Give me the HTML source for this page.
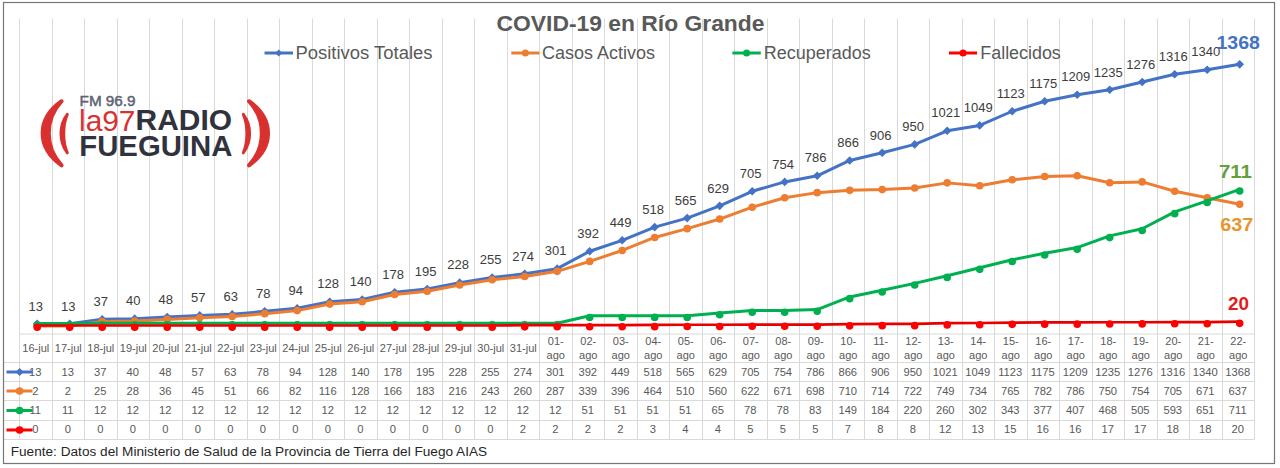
<!DOCTYPE html>
<html><head><meta charset="utf-8"><title>COVID-19 en Río Grande</title>
<style>html,body{margin:0;padding:0;background:#fff;width:1280px;height:468px;overflow:hidden}svg{display:block;font-family:"Liberation Sans",sans-serif}</style>
</head><body>
<svg width="1280" height="468" viewBox="0 0 1280 468">
<rect x="0" y="0" width="1280" height="468" fill="#fff"/>
<path d="M19.50 18.5V439 M52.50 18.5V439 M84.50 18.5V439 M117.50 18.5V439 M149.50 18.5V439 M182.50 18.5V439 M214.50 18.5V439 M247.50 18.5V439 M279.50 18.5V439 M312.50 18.5V439 M344.50 18.5V439 M377.50 18.5V439 M409.50 18.5V439 M442.50 18.5V439 M474.50 18.5V439 M507.50 18.5V439 M539.50 18.5V439 M572.50 18.5V439 M604.50 18.5V439 M637.50 18.5V439 M669.50 18.5V439 M702.50 18.5V439 M734.50 18.5V439 M767.50 18.5V439 M799.50 18.5V439 M832.50 18.5V439 M864.50 18.5V439 M897.50 18.5V439 M929.50 18.5V439 M962.50 18.5V439 M994.50 18.5V439 M1027.50 18.5V439 M1059.50 18.5V439 M1092.50 18.5V439 M1124.50 18.5V439 M1157.50 18.5V439 M1189.50 18.5V439 M1222.50 18.5V439 M1254.50 18.5V439" stroke="#d9d9d9" stroke-width="1" fill="none"/>
<path d="M19.50 334H1254.50 M3 362.5H1254.50 M3 381.5H1254.50 M3 400.5H1254.50 M3 420.5H1254.50 M3 439.5H1254.50" stroke="#d9d9d9" stroke-width="1" fill="none"/>
<rect x="3.5" y="2.5" width="1271" height="461" fill="none" stroke="#767676" stroke-width="1.2"/>
<g fill="#d9312f" stroke="#d9312f" stroke-linejoin="round">
<path stroke-width="4" d="M61.60 101.20C36.27 119.15 36.27 147.35 61.60 165.30C44.53 147.35 44.53 119.15 61.60 101.20Z"/>
<path stroke-width="3" d="M67.30 114.30C58.90 125.08 58.90 142.02 67.30 152.80C62.50 142.02 62.50 125.08 67.30 114.30Z"/>
<path stroke-width="4" d="M249.00 101.20C274.33 119.15 274.33 147.35 249.00 165.30C266.07 147.35 266.07 119.15 249.00 101.20Z"/>
<path stroke-width="3" d="M243.30 114.30C251.70 125.08 251.70 142.02 243.30 152.80C248.10 142.02 248.10 125.08 243.30 114.30Z"/>
</g>
<g id="logo">
<text x="79.6" y="105.8" font-family="Liberation Sans" font-size="14" fill="#5d6274" stroke="#5d6274" stroke-width="0.45" textLength="56" lengthAdjust="spacingAndGlyphs">FM 96.9</text>
<text x="79" y="130.6" font-family="Liberation Sans" font-size="29.5" fill="#d9312f" textLength="56.5" lengthAdjust="spacingAndGlyphs">la97</text>
<text x="135.5" y="130.4" font-family="Liberation Sans" font-weight="bold" font-size="29" fill="#30323d" textLength="96.5" lengthAdjust="spacingAndGlyphs">RADIO</text>
<text x="79.3" y="155.6" font-family="Liberation Sans" font-weight="bold" font-size="28.7" fill="#30323d" textLength="153" lengthAdjust="spacingAndGlyphs">FUEGUINA</text>
</g>
<text x="496.5" y="31.3" font-family="Liberation Sans" font-weight="bold" font-size="22" fill="#595959" textLength="268" lengthAdjust="spacingAndGlyphs">COVID-19 en Río Grande</text>
<path d="M264.5 53H293" stroke="#4472C4" stroke-width="3"/>
<path d="M278.75 49.5L282.25 53L278.75 56.5L275.25 53Z" fill="#4472C4"/>
<text x="295.5" y="58.8" font-family="Liberation Sans" font-size="17.5" fill="#595959" textLength="137" lengthAdjust="spacingAndGlyphs">Positivos Totales</text>
<path d="M511.3 53H539.4" stroke="#ED7D31" stroke-width="3"/>
<circle cx="525.35" cy="53" r="3.5" fill="#ED7D31"/>
<text x="542" y="58.8" font-family="Liberation Sans" font-size="17.5" fill="#595959" textLength="113" lengthAdjust="spacingAndGlyphs">Casos Activos</text>
<path d="M732.4 53H760.8" stroke="#00B050" stroke-width="3"/>
<circle cx="746.5999999999999" cy="53" r="3.5" fill="#00B050"/>
<text x="763.8" y="58.8" font-family="Liberation Sans" font-size="17.5" fill="#595959" textLength="107" lengthAdjust="spacingAndGlyphs">Recuperados</text>
<path d="M949 53H977.1" stroke="#FF0000" stroke-width="3"/>
<circle cx="963.05" cy="53" r="3.5" fill="#FF0000"/>
<text x="980.3" y="58.8" font-family="Liberation Sans" font-size="17.5" fill="#595959" textLength="80.5" lengthAdjust="spacingAndGlyphs">Fallecidos</text>
<polyline points="37.20,323.81 69.70,323.81 102.20,319.21 134.70,318.64 167.20,317.11 199.70,315.38 232.20,314.24 264.70,311.36 297.20,308.30 329.70,301.79 362.20,299.49 394.70,292.21 427.20,288.96 459.70,282.64 492.20,277.47 524.70,273.83 557.20,268.66 589.70,251.23 622.20,240.32 654.70,227.10 687.20,218.10 719.70,205.85 752.20,191.29 784.70,181.91 817.20,175.78 849.70,160.46 882.20,152.80 914.70,144.38 947.20,130.78 979.70,125.42 1012.20,111.25 1044.70,101.29 1077.20,94.78 1109.70,89.80 1142.20,81.95 1174.70,74.29 1207.20,69.69 1239.70,64.33" fill="none" stroke="#4472C4" stroke-width="3" stroke-linejoin="round" stroke-linecap="round"/>
<path d="M37.20 319.51L41.50 323.81L37.20 328.11L32.90 323.81Z M69.70 319.51L74.00 323.81L69.70 328.11L65.40 323.81Z M102.20 314.91L106.50 319.21L102.20 323.51L97.90 319.21Z M134.70 314.34L139.00 318.64L134.70 322.94L130.40 318.64Z M167.20 312.81L171.50 317.11L167.20 321.41L162.90 317.11Z M199.70 311.08L204.00 315.38L199.70 319.68L195.40 315.38Z M232.20 309.94L236.50 314.24L232.20 318.54L227.90 314.24Z M264.70 307.06L269.00 311.36L264.70 315.66L260.40 311.36Z M297.20 304.00L301.50 308.30L297.20 312.60L292.90 308.30Z M329.70 297.49L334.00 301.79L329.70 306.09L325.40 301.79Z M362.20 295.19L366.50 299.49L362.20 303.79L357.90 299.49Z M394.70 287.91L399.00 292.21L394.70 296.51L390.40 292.21Z M427.20 284.66L431.50 288.96L427.20 293.26L422.90 288.96Z M459.70 278.34L464.00 282.64L459.70 286.94L455.40 282.64Z M492.20 273.17L496.50 277.47L492.20 281.77L487.90 277.47Z M524.70 269.53L529.00 273.83L524.70 278.13L520.40 273.83Z M557.20 264.36L561.50 268.66L557.20 272.96L552.90 268.66Z M589.70 246.93L594.00 251.23L589.70 255.53L585.40 251.23Z M622.20 236.02L626.50 240.32L622.20 244.62L617.90 240.32Z M654.70 222.80L659.00 227.10L654.70 231.40L650.40 227.10Z M687.20 213.80L691.50 218.10L687.20 222.40L682.90 218.10Z M719.70 201.55L724.00 205.85L719.70 210.15L715.40 205.85Z M752.20 186.99L756.50 191.29L752.20 195.59L747.90 191.29Z M784.70 177.61L789.00 181.91L784.70 186.21L780.40 181.91Z M817.20 171.48L821.50 175.78L817.20 180.08L812.90 175.78Z M849.70 156.16L854.00 160.46L849.70 164.76L845.40 160.46Z M882.20 148.50L886.50 152.80L882.20 157.10L877.90 152.80Z M914.70 140.07L919.00 144.38L914.70 148.68L910.40 144.38Z M947.20 126.48L951.50 130.78L947.20 135.08L942.90 130.78Z M979.70 121.12L984.00 125.42L979.70 129.72L975.40 125.42Z M1012.20 106.95L1016.50 111.25L1012.20 115.55L1007.90 111.25Z M1044.70 96.99L1049.00 101.29L1044.70 105.59L1040.40 101.29Z M1077.20 90.48L1081.50 94.78L1077.20 99.08L1072.90 94.78Z M1109.70 85.50L1114.00 89.80L1109.70 94.10L1105.40 89.80Z M1142.20 77.65L1146.50 81.95L1142.20 86.25L1137.90 81.95Z M1174.70 69.99L1179.00 74.29L1174.70 78.59L1170.40 74.29Z M1207.20 65.39L1211.50 69.69L1207.20 73.99L1202.90 69.69Z M1239.70 60.03L1244.00 64.33L1239.70 68.63L1235.40 64.33Z" fill="#4472C4"/>
<polyline points="37.20,325.92 69.70,325.92 102.20,321.51 134.70,320.94 167.20,319.41 199.70,317.68 232.20,316.53 264.70,313.66 297.20,310.60 329.70,304.09 362.20,301.79 394.70,294.51 427.20,291.26 459.70,284.94 492.20,279.77 524.70,276.51 557.20,271.34 589.70,261.38 622.20,250.47 654.70,237.44 687.20,228.63 719.70,219.06 752.20,207.19 784.70,197.80 817.20,192.63 849.70,190.34 882.20,189.57 914.70,188.04 947.20,182.87 979.70,185.74 1012.20,179.80 1044.70,176.55 1077.20,175.78 1109.70,182.68 1142.20,181.91 1174.70,191.29 1207.20,197.80 1239.70,204.31" fill="none" stroke="#ED7D31" stroke-width="3" stroke-linejoin="round" stroke-linecap="round"/>
<path d="M33.40 325.92a3.8 3.8 0 1 0 7.6 0a3.8 3.8 0 1 0 -7.6 0Z M65.90 325.92a3.8 3.8 0 1 0 7.6 0a3.8 3.8 0 1 0 -7.6 0Z M98.40 321.51a3.8 3.8 0 1 0 7.6 0a3.8 3.8 0 1 0 -7.6 0Z M130.90 320.94a3.8 3.8 0 1 0 7.6 0a3.8 3.8 0 1 0 -7.6 0Z M163.40 319.41a3.8 3.8 0 1 0 7.6 0a3.8 3.8 0 1 0 -7.6 0Z M195.90 317.68a3.8 3.8 0 1 0 7.6 0a3.8 3.8 0 1 0 -7.6 0Z M228.40 316.53a3.8 3.8 0 1 0 7.6 0a3.8 3.8 0 1 0 -7.6 0Z M260.90 313.66a3.8 3.8 0 1 0 7.6 0a3.8 3.8 0 1 0 -7.6 0Z M293.40 310.60a3.8 3.8 0 1 0 7.6 0a3.8 3.8 0 1 0 -7.6 0Z M325.90 304.09a3.8 3.8 0 1 0 7.6 0a3.8 3.8 0 1 0 -7.6 0Z M358.40 301.79a3.8 3.8 0 1 0 7.6 0a3.8 3.8 0 1 0 -7.6 0Z M390.90 294.51a3.8 3.8 0 1 0 7.6 0a3.8 3.8 0 1 0 -7.6 0Z M423.40 291.26a3.8 3.8 0 1 0 7.6 0a3.8 3.8 0 1 0 -7.6 0Z M455.90 284.94a3.8 3.8 0 1 0 7.6 0a3.8 3.8 0 1 0 -7.6 0Z M488.40 279.77a3.8 3.8 0 1 0 7.6 0a3.8 3.8 0 1 0 -7.6 0Z M520.90 276.51a3.8 3.8 0 1 0 7.6 0a3.8 3.8 0 1 0 -7.6 0Z M553.40 271.34a3.8 3.8 0 1 0 7.6 0a3.8 3.8 0 1 0 -7.6 0Z M585.90 261.38a3.8 3.8 0 1 0 7.6 0a3.8 3.8 0 1 0 -7.6 0Z M618.40 250.47a3.8 3.8 0 1 0 7.6 0a3.8 3.8 0 1 0 -7.6 0Z M650.90 237.44a3.8 3.8 0 1 0 7.6 0a3.8 3.8 0 1 0 -7.6 0Z M683.40 228.63a3.8 3.8 0 1 0 7.6 0a3.8 3.8 0 1 0 -7.6 0Z M715.90 219.06a3.8 3.8 0 1 0 7.6 0a3.8 3.8 0 1 0 -7.6 0Z M748.40 207.19a3.8 3.8 0 1 0 7.6 0a3.8 3.8 0 1 0 -7.6 0Z M780.90 197.80a3.8 3.8 0 1 0 7.6 0a3.8 3.8 0 1 0 -7.6 0Z M813.40 192.63a3.8 3.8 0 1 0 7.6 0a3.8 3.8 0 1 0 -7.6 0Z M845.90 190.34a3.8 3.8 0 1 0 7.6 0a3.8 3.8 0 1 0 -7.6 0Z M878.40 189.57a3.8 3.8 0 1 0 7.6 0a3.8 3.8 0 1 0 -7.6 0Z M910.90 188.04a3.8 3.8 0 1 0 7.6 0a3.8 3.8 0 1 0 -7.6 0Z M943.40 182.87a3.8 3.8 0 1 0 7.6 0a3.8 3.8 0 1 0 -7.6 0Z M975.90 185.74a3.8 3.8 0 1 0 7.6 0a3.8 3.8 0 1 0 -7.6 0Z M1008.40 179.80a3.8 3.8 0 1 0 7.6 0a3.8 3.8 0 1 0 -7.6 0Z M1040.90 176.55a3.8 3.8 0 1 0 7.6 0a3.8 3.8 0 1 0 -7.6 0Z M1073.40 175.78a3.8 3.8 0 1 0 7.6 0a3.8 3.8 0 1 0 -7.6 0Z M1105.90 182.68a3.8 3.8 0 1 0 7.6 0a3.8 3.8 0 1 0 -7.6 0Z M1138.40 181.91a3.8 3.8 0 1 0 7.6 0a3.8 3.8 0 1 0 -7.6 0Z M1170.90 191.29a3.8 3.8 0 1 0 7.6 0a3.8 3.8 0 1 0 -7.6 0Z M1203.40 197.80a3.8 3.8 0 1 0 7.6 0a3.8 3.8 0 1 0 -7.6 0Z M1235.90 204.31a3.8 3.8 0 1 0 7.6 0a3.8 3.8 0 1 0 -7.6 0Z" fill="#ED7D31"/>
<polyline points="37.20,323.39 69.70,323.39 102.20,323.20 134.70,323.20 167.20,323.20 199.70,323.20 232.20,323.20 264.70,323.20 297.20,323.20 329.70,323.20 362.20,323.20 394.70,323.20 427.20,323.20 459.70,323.20 492.20,323.20 524.70,323.20 557.20,323.20 589.70,315.73 622.20,315.73 654.70,315.73 687.20,315.73 719.70,313.05 752.20,310.56 784.70,310.56 817.20,309.61 849.70,296.97 882.20,290.26 914.70,283.37 947.20,275.71 979.70,267.67 1012.20,259.82 1044.70,253.30 1077.20,247.56 1109.70,235.88 1142.20,228.79 1174.70,211.94 1207.20,200.83 1239.70,189.34" fill="none" stroke="#00B050" stroke-width="3" stroke-linejoin="round" stroke-linecap="round"/>
<path d="M33.40 325.09a3.8 3.8 0 1 0 7.6 0a3.8 3.8 0 1 0 -7.6 0Z M65.90 325.09a3.8 3.8 0 1 0 7.6 0a3.8 3.8 0 1 0 -7.6 0Z M98.40 324.90a3.8 3.8 0 1 0 7.6 0a3.8 3.8 0 1 0 -7.6 0Z M130.90 324.90a3.8 3.8 0 1 0 7.6 0a3.8 3.8 0 1 0 -7.6 0Z M163.40 324.90a3.8 3.8 0 1 0 7.6 0a3.8 3.8 0 1 0 -7.6 0Z M195.90 324.90a3.8 3.8 0 1 0 7.6 0a3.8 3.8 0 1 0 -7.6 0Z M228.40 324.90a3.8 3.8 0 1 0 7.6 0a3.8 3.8 0 1 0 -7.6 0Z M260.90 324.90a3.8 3.8 0 1 0 7.6 0a3.8 3.8 0 1 0 -7.6 0Z M293.40 324.90a3.8 3.8 0 1 0 7.6 0a3.8 3.8 0 1 0 -7.6 0Z M325.90 324.90a3.8 3.8 0 1 0 7.6 0a3.8 3.8 0 1 0 -7.6 0Z M358.40 324.90a3.8 3.8 0 1 0 7.6 0a3.8 3.8 0 1 0 -7.6 0Z M390.90 324.90a3.8 3.8 0 1 0 7.6 0a3.8 3.8 0 1 0 -7.6 0Z M423.40 324.90a3.8 3.8 0 1 0 7.6 0a3.8 3.8 0 1 0 -7.6 0Z M455.90 324.90a3.8 3.8 0 1 0 7.6 0a3.8 3.8 0 1 0 -7.6 0Z M488.40 324.90a3.8 3.8 0 1 0 7.6 0a3.8 3.8 0 1 0 -7.6 0Z M520.90 324.90a3.8 3.8 0 1 0 7.6 0a3.8 3.8 0 1 0 -7.6 0Z M553.40 324.90a3.8 3.8 0 1 0 7.6 0a3.8 3.8 0 1 0 -7.6 0Z M585.90 317.43a3.8 3.8 0 1 0 7.6 0a3.8 3.8 0 1 0 -7.6 0Z M618.40 317.43a3.8 3.8 0 1 0 7.6 0a3.8 3.8 0 1 0 -7.6 0Z M650.90 317.43a3.8 3.8 0 1 0 7.6 0a3.8 3.8 0 1 0 -7.6 0Z M683.40 317.43a3.8 3.8 0 1 0 7.6 0a3.8 3.8 0 1 0 -7.6 0Z M715.90 314.75a3.8 3.8 0 1 0 7.6 0a3.8 3.8 0 1 0 -7.6 0Z M748.40 312.26a3.8 3.8 0 1 0 7.6 0a3.8 3.8 0 1 0 -7.6 0Z M780.90 312.26a3.8 3.8 0 1 0 7.6 0a3.8 3.8 0 1 0 -7.6 0Z M813.40 311.31a3.8 3.8 0 1 0 7.6 0a3.8 3.8 0 1 0 -7.6 0Z M845.90 298.67a3.8 3.8 0 1 0 7.6 0a3.8 3.8 0 1 0 -7.6 0Z M878.40 291.96a3.8 3.8 0 1 0 7.6 0a3.8 3.8 0 1 0 -7.6 0Z M910.90 285.07a3.8 3.8 0 1 0 7.6 0a3.8 3.8 0 1 0 -7.6 0Z M943.40 277.41a3.8 3.8 0 1 0 7.6 0a3.8 3.8 0 1 0 -7.6 0Z M975.90 269.37a3.8 3.8 0 1 0 7.6 0a3.8 3.8 0 1 0 -7.6 0Z M1008.40 261.52a3.8 3.8 0 1 0 7.6 0a3.8 3.8 0 1 0 -7.6 0Z M1040.90 255.00a3.8 3.8 0 1 0 7.6 0a3.8 3.8 0 1 0 -7.6 0Z M1073.40 249.26a3.8 3.8 0 1 0 7.6 0a3.8 3.8 0 1 0 -7.6 0Z M1105.90 237.58a3.8 3.8 0 1 0 7.6 0a3.8 3.8 0 1 0 -7.6 0Z M1138.40 230.49a3.8 3.8 0 1 0 7.6 0a3.8 3.8 0 1 0 -7.6 0Z M1170.90 213.64a3.8 3.8 0 1 0 7.6 0a3.8 3.8 0 1 0 -7.6 0Z M1203.40 202.53a3.8 3.8 0 1 0 7.6 0a3.8 3.8 0 1 0 -7.6 0Z M1235.90 191.04a3.8 3.8 0 1 0 7.6 0a3.8 3.8 0 1 0 -7.6 0Z" fill="#00B050"/>
<polyline points="37.20,325.50 69.70,325.50 102.20,325.50 134.70,325.50 167.20,325.50 199.70,325.50 232.20,325.50 264.70,325.50 297.20,325.50 329.70,325.50 362.20,325.50 394.70,325.50 427.20,325.50 459.70,325.50 492.20,325.50 524.70,325.12 557.20,325.12 589.70,325.12 622.20,325.12 654.70,324.93 687.20,324.73 719.70,324.73 752.20,324.54 784.70,324.54 817.20,324.54 849.70,324.16 882.20,323.97 914.70,323.97 947.20,323.20 979.70,323.01 1012.20,322.63 1044.70,322.44 1077.20,322.44 1109.70,322.24 1142.20,322.24 1174.70,322.05 1207.20,322.05 1239.70,321.67" fill="none" stroke="#e80000" stroke-width="2.7" stroke-linejoin="round" stroke-linecap="round"/>
<path d="M33.40 327.20a3.8 3.8 0 1 0 7.6 0a3.8 3.8 0 1 0 -7.6 0Z M65.90 327.20a3.8 3.8 0 1 0 7.6 0a3.8 3.8 0 1 0 -7.6 0Z M98.40 327.20a3.8 3.8 0 1 0 7.6 0a3.8 3.8 0 1 0 -7.6 0Z M130.90 327.20a3.8 3.8 0 1 0 7.6 0a3.8 3.8 0 1 0 -7.6 0Z M163.40 327.20a3.8 3.8 0 1 0 7.6 0a3.8 3.8 0 1 0 -7.6 0Z M195.90 327.20a3.8 3.8 0 1 0 7.6 0a3.8 3.8 0 1 0 -7.6 0Z M228.40 327.20a3.8 3.8 0 1 0 7.6 0a3.8 3.8 0 1 0 -7.6 0Z M260.90 327.20a3.8 3.8 0 1 0 7.6 0a3.8 3.8 0 1 0 -7.6 0Z M293.40 327.20a3.8 3.8 0 1 0 7.6 0a3.8 3.8 0 1 0 -7.6 0Z M325.90 327.20a3.8 3.8 0 1 0 7.6 0a3.8 3.8 0 1 0 -7.6 0Z M358.40 327.20a3.8 3.8 0 1 0 7.6 0a3.8 3.8 0 1 0 -7.6 0Z M390.90 327.20a3.8 3.8 0 1 0 7.6 0a3.8 3.8 0 1 0 -7.6 0Z M423.40 327.20a3.8 3.8 0 1 0 7.6 0a3.8 3.8 0 1 0 -7.6 0Z M455.90 327.20a3.8 3.8 0 1 0 7.6 0a3.8 3.8 0 1 0 -7.6 0Z M488.40 327.20a3.8 3.8 0 1 0 7.6 0a3.8 3.8 0 1 0 -7.6 0Z M520.90 326.82a3.8 3.8 0 1 0 7.6 0a3.8 3.8 0 1 0 -7.6 0Z M553.40 326.82a3.8 3.8 0 1 0 7.6 0a3.8 3.8 0 1 0 -7.6 0Z M585.90 326.82a3.8 3.8 0 1 0 7.6 0a3.8 3.8 0 1 0 -7.6 0Z M618.40 326.82a3.8 3.8 0 1 0 7.6 0a3.8 3.8 0 1 0 -7.6 0Z M650.90 326.63a3.8 3.8 0 1 0 7.6 0a3.8 3.8 0 1 0 -7.6 0Z M683.40 326.43a3.8 3.8 0 1 0 7.6 0a3.8 3.8 0 1 0 -7.6 0Z M715.90 326.43a3.8 3.8 0 1 0 7.6 0a3.8 3.8 0 1 0 -7.6 0Z M748.40 326.24a3.8 3.8 0 1 0 7.6 0a3.8 3.8 0 1 0 -7.6 0Z M780.90 326.24a3.8 3.8 0 1 0 7.6 0a3.8 3.8 0 1 0 -7.6 0Z M813.40 326.24a3.8 3.8 0 1 0 7.6 0a3.8 3.8 0 1 0 -7.6 0Z M845.90 325.86a3.8 3.8 0 1 0 7.6 0a3.8 3.8 0 1 0 -7.6 0Z M878.40 325.67a3.8 3.8 0 1 0 7.6 0a3.8 3.8 0 1 0 -7.6 0Z M910.90 325.67a3.8 3.8 0 1 0 7.6 0a3.8 3.8 0 1 0 -7.6 0Z M943.40 324.90a3.8 3.8 0 1 0 7.6 0a3.8 3.8 0 1 0 -7.6 0Z M975.90 324.71a3.8 3.8 0 1 0 7.6 0a3.8 3.8 0 1 0 -7.6 0Z M1008.40 324.33a3.8 3.8 0 1 0 7.6 0a3.8 3.8 0 1 0 -7.6 0Z M1040.90 324.14a3.8 3.8 0 1 0 7.6 0a3.8 3.8 0 1 0 -7.6 0Z M1073.40 324.14a3.8 3.8 0 1 0 7.6 0a3.8 3.8 0 1 0 -7.6 0Z M1105.90 323.94a3.8 3.8 0 1 0 7.6 0a3.8 3.8 0 1 0 -7.6 0Z M1138.40 323.94a3.8 3.8 0 1 0 7.6 0a3.8 3.8 0 1 0 -7.6 0Z M1170.90 323.75a3.8 3.8 0 1 0 7.6 0a3.8 3.8 0 1 0 -7.6 0Z M1203.40 323.75a3.8 3.8 0 1 0 7.6 0a3.8 3.8 0 1 0 -7.6 0Z M1235.90 323.37a3.8 3.8 0 1 0 7.6 0a3.8 3.8 0 1 0 -7.6 0Z" fill="#FF0000"/>
<g font-family="Liberation Sans" font-size="13" fill="#3c3c3c" text-anchor="middle"><text x="35.70" y="310.51">13</text><text x="68.20" y="310.51">13</text><text x="100.70" y="305.91">37</text><text x="133.20" y="305.34">40</text><text x="165.70" y="303.81">48</text><text x="198.20" y="302.08">57</text><text x="230.70" y="300.94">63</text><text x="263.20" y="298.06">78</text><text x="295.70" y="295.00">94</text><text x="328.20" y="288.49">128</text><text x="360.70" y="286.19">140</text><text x="393.20" y="278.91">178</text><text x="425.70" y="275.66">195</text><text x="458.20" y="269.34">228</text><text x="490.70" y="264.17">255</text><text x="523.20" y="260.53">274</text><text x="555.70" y="255.36">301</text><text x="588.20" y="237.93">392</text><text x="620.70" y="227.02">449</text><text x="653.20" y="213.80">518</text><text x="685.70" y="204.80">565</text><text x="718.20" y="192.55">629</text><text x="750.70" y="177.99">705</text><text x="783.20" y="168.61">754</text><text x="815.70" y="162.48">786</text><text x="848.20" y="147.16">866</text><text x="880.70" y="139.50">906</text><text x="913.20" y="131.07">950</text><text x="945.70" y="117.48">1021</text><text x="978.20" y="112.12">1049</text><text x="1010.70" y="97.95">1123</text><text x="1043.20" y="87.99">1175</text><text x="1075.70" y="81.48">1209</text><text x="1108.20" y="76.50">1235</text><text x="1140.70" y="68.65">1276</text><text x="1173.20" y="60.99">1316</text><text x="1205.70" y="56.39">1340</text></g>
<text x="1216.5" y="48.7" font-family="Liberation Sans" font-weight="bold" font-size="18" fill="#4472C4" textLength="43.5" lengthAdjust="spacingAndGlyphs">1368</text>
<text x="1219" y="177.9" font-family="Liberation Sans" font-weight="bold" font-size="18" fill="#62a03c" textLength="33" lengthAdjust="spacingAndGlyphs">711</text>
<text x="1220.3" y="231.2" font-family="Liberation Sans" font-weight="bold" font-size="18" fill="#e8952c" textLength="33" lengthAdjust="spacingAndGlyphs">637</text>
<text x="1228" y="310.1" font-family="Liberation Sans" font-weight="bold" font-size="18.5" fill="#e31b1b" textLength="21" lengthAdjust="spacingAndGlyphs">20</text>
<g font-family="Liberation Sans" font-size="11" fill="#595959" text-anchor="middle"><text x="35.75" y="352">16-jul</text><text x="68.25" y="352">17-jul</text><text x="100.75" y="352">18-jul</text><text x="133.25" y="352">19-jul</text><text x="165.75" y="352">20-jul</text><text x="198.25" y="352">21-jul</text><text x="230.75" y="352">22-jul</text><text x="263.25" y="352">23-jul</text><text x="295.75" y="352">24-jul</text><text x="328.25" y="352">25-jul</text><text x="360.75" y="352">26-jul</text><text x="393.25" y="352">27-jul</text><text x="425.75" y="352">28-jul</text><text x="458.25" y="352">29-jul</text><text x="490.75" y="352">30-jul</text><text x="523.25" y="352">31-jul</text><text x="555.75" y="345">01-</text><text x="555.75" y="359">ago</text><text x="588.25" y="345">02-</text><text x="588.25" y="359">ago</text><text x="620.75" y="345">03-</text><text x="620.75" y="359">ago</text><text x="653.25" y="345">04-</text><text x="653.25" y="359">ago</text><text x="685.75" y="345">05-</text><text x="685.75" y="359">ago</text><text x="718.25" y="345">06-</text><text x="718.25" y="359">ago</text><text x="750.75" y="345">07-</text><text x="750.75" y="359">ago</text><text x="783.25" y="345">08-</text><text x="783.25" y="359">ago</text><text x="815.75" y="345">09-</text><text x="815.75" y="359">ago</text><text x="848.25" y="345">10-</text><text x="848.25" y="359">ago</text><text x="880.75" y="345">11-</text><text x="880.75" y="359">ago</text><text x="913.25" y="345">12-</text><text x="913.25" y="359">ago</text><text x="945.75" y="345">13-</text><text x="945.75" y="359">ago</text><text x="978.25" y="345">14-</text><text x="978.25" y="359">ago</text><text x="1010.75" y="345">15-</text><text x="1010.75" y="359">ago</text><text x="1043.25" y="345">16-</text><text x="1043.25" y="359">ago</text><text x="1075.75" y="345">17-</text><text x="1075.75" y="359">ago</text><text x="1108.25" y="345">18-</text><text x="1108.25" y="359">ago</text><text x="1140.75" y="345">19-</text><text x="1140.75" y="359">ago</text><text x="1173.25" y="345">20-</text><text x="1173.25" y="359">ago</text><text x="1205.75" y="345">21-</text><text x="1205.75" y="359">ago</text><text x="1238.25" y="345">22-</text><text x="1238.25" y="359">ago</text></g>
<g font-family="Liberation Sans" font-size="11.2" fill="#595959" text-anchor="middle"><text x="35.25" y="375.5">13</text><text x="67.75" y="375.5">13</text><text x="100.25" y="375.5">37</text><text x="132.75" y="375.5">40</text><text x="165.25" y="375.5">48</text><text x="197.75" y="375.5">57</text><text x="230.25" y="375.5">63</text><text x="262.75" y="375.5">78</text><text x="295.25" y="375.5">94</text><text x="327.75" y="375.5">128</text><text x="360.25" y="375.5">140</text><text x="392.75" y="375.5">178</text><text x="425.25" y="375.5">195</text><text x="457.75" y="375.5">228</text><text x="490.25" y="375.5">255</text><text x="522.75" y="375.5">274</text><text x="555.25" y="375.5">301</text><text x="587.75" y="375.5">392</text><text x="620.25" y="375.5">449</text><text x="652.75" y="375.5">518</text><text x="685.25" y="375.5">565</text><text x="717.75" y="375.5">629</text><text x="750.25" y="375.5">705</text><text x="782.75" y="375.5">754</text><text x="815.25" y="375.5">786</text><text x="847.75" y="375.5">866</text><text x="880.25" y="375.5">906</text><text x="912.75" y="375.5">950</text><text x="945.25" y="375.5">1021</text><text x="977.75" y="375.5">1049</text><text x="1010.25" y="375.5">1123</text><text x="1042.75" y="375.5">1175</text><text x="1075.25" y="375.5">1209</text><text x="1107.75" y="375.5">1235</text><text x="1140.25" y="375.5">1276</text><text x="1172.75" y="375.5">1316</text><text x="1205.25" y="375.5">1340</text><text x="1237.75" y="375.5">1368</text><text x="35.25" y="394.8">2</text><text x="67.75" y="394.8">2</text><text x="100.25" y="394.8">25</text><text x="132.75" y="394.8">28</text><text x="165.25" y="394.8">36</text><text x="197.75" y="394.8">45</text><text x="230.25" y="394.8">51</text><text x="262.75" y="394.8">66</text><text x="295.25" y="394.8">82</text><text x="327.75" y="394.8">116</text><text x="360.25" y="394.8">128</text><text x="392.75" y="394.8">166</text><text x="425.25" y="394.8">183</text><text x="457.75" y="394.8">216</text><text x="490.25" y="394.8">243</text><text x="522.75" y="394.8">260</text><text x="555.25" y="394.8">287</text><text x="587.75" y="394.8">339</text><text x="620.25" y="394.8">396</text><text x="652.75" y="394.8">464</text><text x="685.25" y="394.8">510</text><text x="717.75" y="394.8">560</text><text x="750.25" y="394.8">622</text><text x="782.75" y="394.8">671</text><text x="815.25" y="394.8">698</text><text x="847.75" y="394.8">710</text><text x="880.25" y="394.8">714</text><text x="912.75" y="394.8">722</text><text x="945.25" y="394.8">749</text><text x="977.75" y="394.8">734</text><text x="1010.25" y="394.8">765</text><text x="1042.75" y="394.8">782</text><text x="1075.25" y="394.8">786</text><text x="1107.75" y="394.8">750</text><text x="1140.25" y="394.8">754</text><text x="1172.75" y="394.8">705</text><text x="1205.25" y="394.8">671</text><text x="1237.75" y="394.8">637</text><text x="35.25" y="414">11</text><text x="67.75" y="414">11</text><text x="100.25" y="414">12</text><text x="132.75" y="414">12</text><text x="165.25" y="414">12</text><text x="197.75" y="414">12</text><text x="230.25" y="414">12</text><text x="262.75" y="414">12</text><text x="295.25" y="414">12</text><text x="327.75" y="414">12</text><text x="360.25" y="414">12</text><text x="392.75" y="414">12</text><text x="425.25" y="414">12</text><text x="457.75" y="414">12</text><text x="490.25" y="414">12</text><text x="522.75" y="414">12</text><text x="555.25" y="414">12</text><text x="587.75" y="414">51</text><text x="620.25" y="414">51</text><text x="652.75" y="414">51</text><text x="685.25" y="414">51</text><text x="717.75" y="414">65</text><text x="750.25" y="414">78</text><text x="782.75" y="414">78</text><text x="815.25" y="414">83</text><text x="847.75" y="414">149</text><text x="880.25" y="414">184</text><text x="912.75" y="414">220</text><text x="945.25" y="414">260</text><text x="977.75" y="414">302</text><text x="1010.25" y="414">343</text><text x="1042.75" y="414">377</text><text x="1075.25" y="414">407</text><text x="1107.75" y="414">468</text><text x="1140.25" y="414">505</text><text x="1172.75" y="414">593</text><text x="1205.25" y="414">651</text><text x="1237.75" y="414">711</text><text x="35.25" y="433.3">0</text><text x="67.75" y="433.3">0</text><text x="100.25" y="433.3">0</text><text x="132.75" y="433.3">0</text><text x="165.25" y="433.3">0</text><text x="197.75" y="433.3">0</text><text x="230.25" y="433.3">0</text><text x="262.75" y="433.3">0</text><text x="295.25" y="433.3">0</text><text x="327.75" y="433.3">0</text><text x="360.25" y="433.3">0</text><text x="392.75" y="433.3">0</text><text x="425.25" y="433.3">0</text><text x="457.75" y="433.3">0</text><text x="490.25" y="433.3">0</text><text x="522.75" y="433.3">2</text><text x="555.25" y="433.3">2</text><text x="587.75" y="433.3">2</text><text x="620.25" y="433.3">2</text><text x="652.75" y="433.3">3</text><text x="685.25" y="433.3">4</text><text x="717.75" y="433.3">4</text><text x="750.25" y="433.3">5</text><text x="782.75" y="433.3">5</text><text x="815.25" y="433.3">5</text><text x="847.75" y="433.3">7</text><text x="880.25" y="433.3">8</text><text x="912.75" y="433.3">8</text><text x="945.25" y="433.3">12</text><text x="977.75" y="433.3">13</text><text x="1010.25" y="433.3">15</text><text x="1042.75" y="433.3">16</text><text x="1075.25" y="433.3">16</text><text x="1107.75" y="433.3">17</text><text x="1140.25" y="433.3">17</text><text x="1172.75" y="433.3">18</text><text x="1205.25" y="433.3">18</text><text x="1237.75" y="433.3">20</text></g>
<path d="M6.5 372.00H32.5" stroke="#4472C4" stroke-width="3"/>
<path d="M19.6 368.00L23.6 372.00L19.6 376.00L15.6 372.00Z" fill="#4472C4"/>
<path d="M6.5 391.00H32.5" stroke="#ED7D31" stroke-width="3"/>
<circle cx="19.6" cy="391.00" r="3.8" fill="#ED7D31"/>
<path d="M6.5 410.50H32.5" stroke="#00B050" stroke-width="3"/>
<circle cx="19.6" cy="410.50" r="3.8" fill="#00B050"/>
<path d="M6.5 430.00H32.5" stroke="#FF0000" stroke-width="3"/>
<circle cx="19.6" cy="430.00" r="3.8" fill="#FF0000"/>
<text x="10.7" y="455.5" font-family="Liberation Sans" font-size="12.5" fill="#262626" textLength="476.5" lengthAdjust="spacingAndGlyphs">Fuente: Datos del Ministerio de Salud de la Provincia de Tierra del Fuego AIAS</text>
</svg>
</body></html>
